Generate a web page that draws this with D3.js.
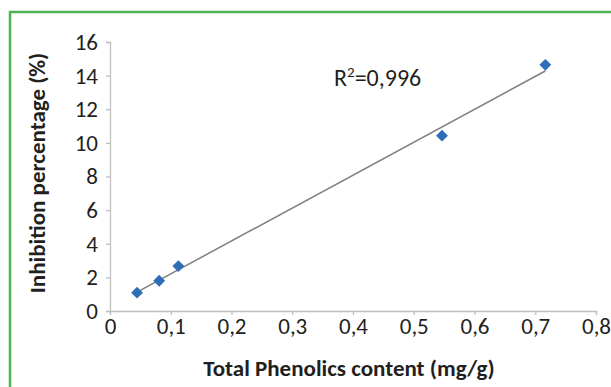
<!DOCTYPE html>
<html><head><meta charset="utf-8">
<script src="https://cdn.jsdelivr.net/npm/d3@7"></script>
<style>body{margin:0;background:#fff;}svg{display:block;}</style>
</head><body>
<svg id="c" width="611" height="387"></svg>
<script>
const phenolics = [0.0445, 0.081, 0.1125, 0.5465, 0.7166];
const inhibition = [1.09, 1.80, 2.67, 10.43, 14.64];
const xTicks = [0, 0.1, 0.2, 0.3, 0.4, 0.5, 0.6, 0.7, 0.8];
const yTicks = [0, 2, 4, 6, 8, 10, 12, 14, 16];
const r2Label = "0,996";
const xTitle = "Total Phenolics content (mg/g)";
const yTitle = "Inhibition percentage (%)";

const FONT = "Carlito, Lato, 'Open Sans', sans-serif";
const svg = d3.select("#c");
const fmt = v => String(v).replace(".", ",");

// green frame
svg.append("path").attr("d", "M10,400 L10,12 L620,12")
  .attr("fill", "none").attr("stroke", "#4db24f").attr("stroke-width", 2.5);

const x = d3.scaleLinear().domain([0, 0.8]).range([110, 596]);
const y = d3.scaleLinear().domain([0, 16]).range([311, 42]);

const axisColor = "#bfbfbf";
const gx = svg.append("g").attr("transform", `translate(0,${y(0)})`)
  .call(d3.axisBottom(x).tickValues(xTicks).tickFormat(fmt).tickSize(4).tickSizeOuter(4).tickPadding(3));
const gy = svg.append("g").attr("transform", `translate(${x(0)},0)`)
  .call(d3.axisLeft(y).tickValues(yTicks).tickFormat(fmt).tickSize(4).tickSizeOuter(4).tickPadding(8));
[gx, gy].forEach(g => {
  g.attr("font-size", null);
  g.selectAll("path,line").attr("stroke", axisColor).attr("stroke-width", 1.3);
  g.selectAll("text").attr("fill", "#231f20").style("font-family", FONT).style("font-size", "23px");
});

// trendline (least squares fit)
const mx = d3.mean(phenolics), my = d3.mean(inhibition);
const slope = d3.sum(phenolics.map((v, i) => (v - mx) * (inhibition[i] - my))) /
              d3.sum(phenolics.map(v => (v - mx) ** 2));
const icpt = my - slope * mx;
const xs = d3.extent(phenolics);
svg.append("line")
  .attr("x1", x(xs[0])).attr("y1", y(icpt + slope * xs[0]))
  .attr("x2", x(xs[1])).attr("y2", y(icpt + slope * xs[1]))
  .attr("stroke", "#7f7f7f").attr("stroke-width", 1.5);

// diamonds
svg.selectAll(".pt").data(phenolics.map((v, i) => [v, inhibition[i]])).join("path")
  .attr("class", "pt")
  .attr("d", d3.symbol(d3.symbolSquare, 70)())
  .attr("transform", d => `translate(${x(d[0])},${y(d[1])}) rotate(45)`)
  .attr("fill", "#2e6db8");

// R^2 label
const t = svg.append("text").attr("x", 334).attr("y", 86)
  .style("font-family", FONT).style("font-size", "24px").attr("fill", "#231f20");
t.append("tspan").text("R");
t.append("tspan").attr("dy", -9).style("font-size", "15px").text("2");
t.append("tspan").attr("dy", 9).text("=" + r2Label);

// titles
svg.append("text").attr("x", 349).attr("y", 376).attr("text-anchor", "middle")
  .style("font-family", FONT).style("font-size", "23px").style("font-weight", "bold")
  .attr("fill", "#231f20").text(xTitle);
svg.append("text").attr("transform", "translate(45,173) rotate(-90)").attr("text-anchor", "middle")
  .style("font-family", FONT).style("font-size", "23px").style("font-weight", "bold")
  .attr("fill", "#231f20").text(yTitle);
</script>
</body></html>
